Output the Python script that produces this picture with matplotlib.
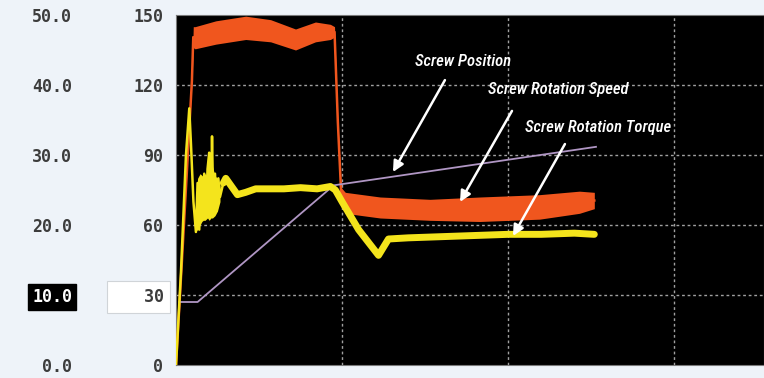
import matplotlib.pyplot as plt
import numpy as np

# screw speed band (upper / lower edge of the trace)
speed_x = [0.0, 0.036, 0.096, 0.104, 0.115, 0.24, 0.42, 0.57, 0.72, 0.84, 0.93, 0.955,
           0.975, 0.995, 1.02, 1.23, 1.53, 1.83, 2.19, 2.43, 2.52]
speed_hi = [0, 45, 123, 145, 145, 147.5, 149.5, 148, 144, 147, 146, 145,
            105, 76, 74, 72, 71, 72, 73, 74.5, 74]
speed_lo = [0, 45, 121, 136, 135.5, 137.5, 139.5, 138.5, 135, 138.5, 139.5, 140.5,
            103, 71, 65, 63, 62, 61.5, 62.5, 65, 67]

# screw torque
torque_x = [0.0, 0.03, 0.06, 0.08, 0.09, 0.105, 0.12,
            0.13, 0.14, 0.15, 0.16, 0.17, 0.18, 0.19, 0.20, 0.21, 0.217,
            0.225, 0.235, 0.245, 0.255, 0.265,
            0.285, 0.30, 0.33, 0.37, 0.42, 0.48, 0.55, 0.65, 0.75, 0.85, 0.93,
            0.96, 1.0, 1.1, 1.22, 1.28, 1.4, 1.6, 1.8, 2.0, 2.2, 2.4, 2.52]
torque_y = [0, 40, 90, 110, 95, 70, 57,
            78, 58, 80, 62, 82, 63, 84, 91, 64, 98,
            66, 82, 66, 80, 72,
            78, 80, 77, 73, 74, 75.5, 75.5, 75.5, 76, 75.5, 76.5,
            75, 70, 58, 47, 54, 54.5, 55, 55.5, 56, 56, 56.5, 56]

# noisy stretch of the torque trace right after start-up
noise_x = [0.115, 0.13, 0.145, 0.16, 0.175, 0.19, 0.20, 0.21, 0.22, 0.235, 0.25, 0.265]
noise_hi = [64, 80, 82, 81, 82, 81, 86, 82, 85, 81, 80, 77]
noise_lo = [57, 58, 60, 62, 62, 63, 62, 63, 63, 64, 66, 70]

# screw position
pos_x = [0.02, 0.13, 0.95, 2.53]
pos_y = [27, 27, 77, 93.5]

right_ticks = [0, 30, 60, 90, 120, 150]
left_ticks = [0, 10, 20, 30, 40, 50]

bg = '#eef3f9'
fig = plt.figure(figsize=(7.64, 3.78), dpi=100, facecolor=bg)
ax = fig.add_axes([176 / 764, 13 / 378, 588 / 764, 350 / 378])
ax.set_facecolor('black')
ax.set_xlim(0, 588 / 166)
ax.set_ylim(0, 150)

for v in [30, 60, 90, 120]:
    ax.axhline(v, color='#a0a0a0', lw=1, ls=(0, (2, 2)), zorder=1)
for v in [1, 2, 3]:
    ax.axvline(v, color='#a0a0a0', lw=1, ls=(0, (2, 2)), zorder=1)

orange = '#f0561e'
ax.fill_between(speed_x, speed_lo, speed_hi, color=orange, lw=0, zorder=3)
ax.plot(speed_x, (np.array(speed_hi) + np.array(speed_lo)) / 2, color=orange, lw=1.8, zorder=3)
ax.plot(pos_x, pos_y, color='#b096c4', lw=1.3, zorder=4)

yellow = '#f4e41c'
ax.fill_between(noise_x, noise_lo, noise_hi, color=yellow, lw=0, zorder=5)
ax.plot(torque_x, torque_y, color=yellow, lw=1.8, zorder=5, solid_joinstyle='round')
flat = np.array(torque_x) >= 0.27
ax.plot(np.array(torque_x)[flat], np.array(torque_y)[flat], color=yellow, lw=5.0,
        zorder=5, solid_capstyle='round', solid_joinstyle='round')

for s in ax.spines.values():
    s.set_color('#7a7a7a')

tick_color = '#3c3c3c'
ax.set_xticks([])
ax.set_yticks(right_ticks)
ax.set_yticklabels([('   %d' if t == 30 else '%d') % t for t in right_ticks])
ax.tick_params(axis='y', length=0, pad=9, labelsize=12, labelcolor=tick_color)
for lbl in ax.get_yticklabels():
    lbl.set_family('DejaVu Sans Mono')
    lbl.set_weight('bold')
    if lbl.get_text().strip() == '30':
        lbl.set_bbox(dict(boxstyle='square,pad=0.4', fc='white', ec='#d0d4d8', lw=0.8))

sec = ax.secondary_yaxis((75 - 176) / 588, functions=(lambda v: v / 3, lambda v: v * 3))
sec.spines['left'].set_visible(False)
sec.set_yticks(left_ticks)
sec.set_yticklabels(['%.1f' % t for t in left_ticks])
sec.tick_params(axis='y', length=0, pad=2, labelsize=12, labelcolor=tick_color)
for lbl in sec.get_yticklabels():
    lbl.set_family('DejaVu Sans Mono')
    lbl.set_weight('bold')
    if lbl.get_text() == '10.0':
        lbl.set_color('white')
        lbl.set_bbox(dict(boxstyle='square,pad=0.25', fc='black', ec='black'))

# callouts
font = dict(color='white', style='italic', fontsize=12, fontweight='medium',
            family=['Roboto Condensed', 'Lato', 'DejaVu Sans'])
labels = [('Screw Position', 1.729, 129.9, (1.62, 122.1), (1.307, 82.7)),
          ('Screw Rotation Speed', 2.301, 117.9, (2.024, 108.9), (1.711, 69.9)),
          ('Screw Rotation Torque', 2.542, 101.6, (2.343, 94.7), (2.03, 55.3))]
for txt, tx, ty, tail, tip in labels:
    ax.text(tx, ty, txt, ha='center', va='center', zorder=7, **font)
    ax.annotate('', xy=tip, xytext=tail, zorder=7,
                arrowprops=dict(arrowstyle='-|>', color='white', lw=1.8, mutation_scale=16,
                                shrinkA=0, shrinkB=0))

fig.savefig('out.png', dpi=100, facecolor=bg)
